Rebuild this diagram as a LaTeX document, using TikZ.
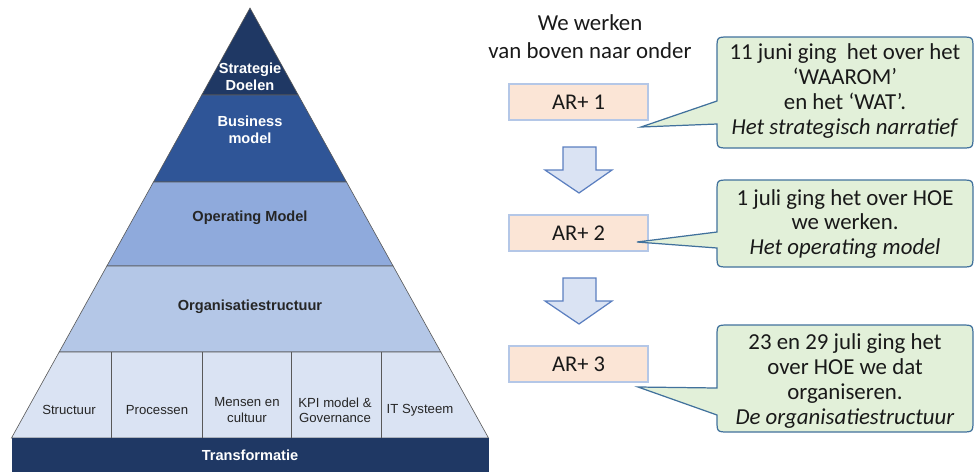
\documentclass[tikz,border=0pt]{standalone}
\usepackage{fontspec}
\setmainfont{Carlito}
\newfontfamily\arialfont{Liberation Sans}
\usetikzlibrary{positioning,calc}

\definecolor{navy}{HTML}{1F3864}
\definecolor{business}{HTML}{2F5597}
\definecolor{operating}{HTML}{8FAADC}
\definecolor{organisatie}{HTML}{B4C7E7}
\definecolor{cellen}{HTML}{DAE3F3}
\definecolor{lijngrijs}{HTML}{595959}
\definecolor{arvul}{HTML}{FBE5D6}
\definecolor{arrand}{HTML}{B4C7E7}
\definecolor{wolkvul}{HTML}{E2F0D9}
\definecolor{wolkrand}{HTML}{41719C}
\definecolor{pijlvul}{HTML}{DAE3F3}
\definecolor{pijlrand}{HTML}{5B7FC0}

\tikzset{
  laag/.style={draw=lijngrijs, line width=0.35pt},
  pyrwit/.style={font=\arialfont\bfseries\fontsize{8.3}{9.6}\selectfont, text=white, align=center},
  pyrdonker/.style={font=\arialfont\bfseries\fontsize{8.3}{9.6}\selectfont, text=black!85, align=center},
  cel/.style={font=\arialfont\fontsize{7.5}{8.6}\selectfont, text=black!85, align=center},
  kop/.style={font=\fontsize{13}{15.9}\selectfont, text=black!90, align=center},
  arbox/.style={draw=arrand, fill=arvul, line width=0.6pt, minimum width=2.78cm, minimum height=0.72cm,
    font=\fontsize{12.8}{14}\selectfont, text=black!90},
  wolk/.style={draw=wolkrand, fill=wolkvul, line width=0.7pt},
  wolktekst/.style={font=\fontsize{13}{14.2}\selectfont, text=black!90, align=center},
  blokpijl/.style={draw=pijlrand, fill=pijlvul, line width=0.7pt, line join=miter}
}

\begin{document}
\begin{tikzpicture}[x=0.2mm,y=-0.2mm]
  \useasboundingbox (0,0) rectangle (975,472);
  % pyramid layers
  \foreach \ya/\yb/\kl in {8/95/navy, 95/182/business, 182/266/operating, 266/352/organisatie, 352/438/cellen}
    \filldraw[laag, fill=\kl] ({250-0.5547*(\ya-8)},\ya) -- ({250+0.5547*(\ya-8)},\ya)
      -- ({250+0.5547*(\yb-8)},\yb) -- ({250-0.5547*(\yb-8)},\yb) -- cycle;
  % cell dividers
  \foreach \x in {111,202,291,381}
    \draw[laag] (\x,352) -- (\x,438);
  % bottom bar
  \fill[navy] (11.5,438) rectangle (488.5,472);
  % pyramid labels
  \node[pyrwit] (strategie) at (250,77) {Strategie\\Doelen};
  \node[pyrwit] (business) at (250,130) {Business\\model};
  \node[pyrdonker] (operating) at (250,218) {Operating Model};
  \node[pyrdonker] (organisatie) at (250,307) {Organisatiestructuur};
  \foreach \x/\t [count=\i] in {69/Structuur, 157/Processen, 247/{Mensen en\\cultuur},
      335/{KPI model \&\\Governance}, 420/IT Systeem}
    \node[cel] (cel\i) at (\x,410) {\t};
  \node[pyrwit] (transformatie) at (250,455) {Transformatie};

  % right column
  \node[kop] (kop) at (590,37) {We werken\\van boven naar onder};
  \node[arbox] (ar1) at (578.5,102) {AR+ 1};
  \node[arbox] (ar2) at (578.5,233) {AR+ 2};
  \node[arbox] (ar3) at (578.5,364) {AR+ 3};
  % down arrows
  \foreach \y in {147,278}
    \draw[blokpijl] (563,\y) -- (596,\y) -- (596,\y+23) -- (612,\y+23) -- (579,\y+46)
      -- (545,\y+23) -- (563,\y+23) -- cycle;

  % callouts
  \foreach \boven/\onder/\pa/\pb/\px/\py in {37/148/101/124/641/127, 180/267/232/248/637/242,
      325/432/388/415/638/387}
    \draw[wolk] (717,\pa) -- (\px,\py) -- (717,\pb) -- (717,\onder-12) .. controls (717,\onder) .. (729,\onder)
      -- (961,\onder) .. controls (973,\onder) .. (973,\onder-12) -- (973,\boven+12)
      .. controls (973,\boven) .. (961,\boven) -- (729,\boven) .. controls (717,\boven) .. (717,\boven+12) -- cycle;
  \node[wolktekst] (c1) at (845,91) {11 juni ging~ het over het\\‘WAAROM’\\en het ‘WAT’.\\\textit{Het strategisch narratief}};
  \node[wolktekst] (c2) at (845,224) {1 juli ging het over HOE\\we werken.\\\textit{Het operating model}};
  \node[wolktekst] (c3) at (845,381) {23 en 29 juli ging het\\over HOE we dat\\organiseren.\\\textit{De organisatiestructuur}};
\end{tikzpicture}
\end{document}
